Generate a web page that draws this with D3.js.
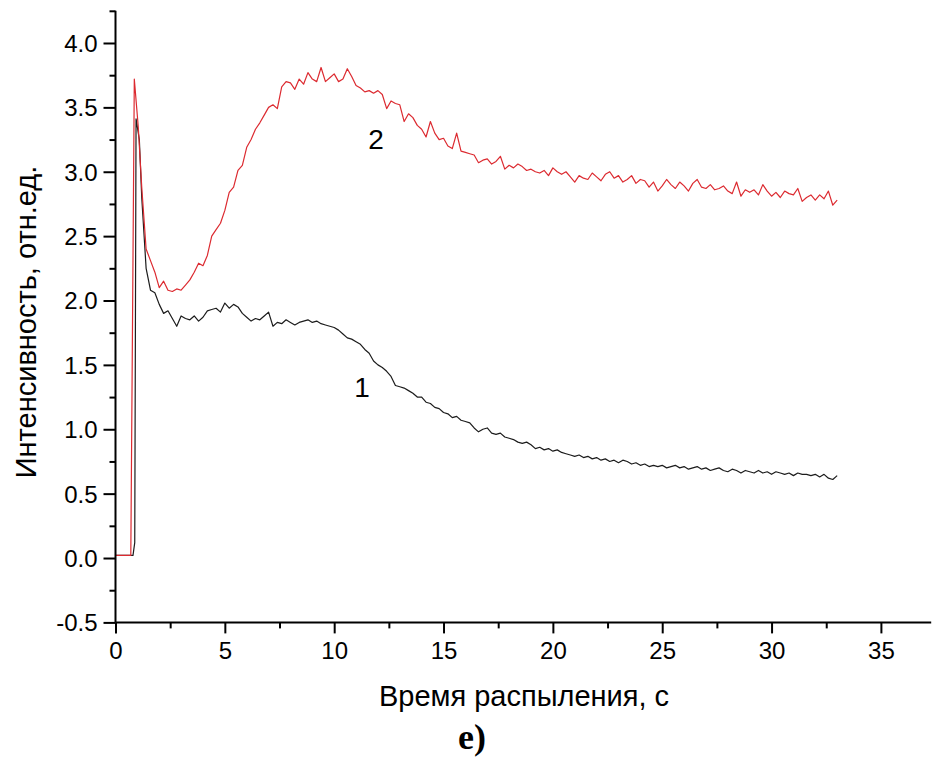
<!DOCTYPE html>
<html>
<head>
<meta charset="utf-8">
<script src="https://cdn.jsdelivr.net/npm/d3@7/dist/d3.min.js"></script>
<style>
  body { margin: 0; background: #fff; }
  svg text { font-family: "Liberation Sans", Arial, sans-serif; fill: #000; }
</style>
</head>
<body>
<div id="chart"></div>
<script>
// head of each curve (before the regular 0.2 s grid), [time, value]
var head1 = [[0, 0.02], [0.8, 0.02], [0.88, 0.12], [0.94, 3.41], [1.09, 3.25]]
var head2 = [[0, 0.02], [0.7, 0.02], [0.86, 3.72], [1.04, 3.35]]

// values on the grid 1.2 .. 33.0 s, step 0.2 s (10 values per 2 s)
var curve1 = [
  2.80, 2.25, 2.08, 2.06, 1.97, 1.90, 1.92, 1.86, 1.80, 1.88,
  1.86, 1.85, 1.88, 1.84, 1.87, 1.92, 1.93, 1.94, 1.91, 1.98,
  1.94, 1.97, 1.95, 1.90, 1.87, 1.84, 1.86, 1.85, 1.88, 1.91,
  1.80, 1.83, 1.82, 1.85, 1.83, 1.81, 1.83, 1.84, 1.85, 1.83,
  1.84, 1.82, 1.81, 1.80, 1.79, 1.77, 1.74, 1.71, 1.70, 1.68,
  1.66, 1.62, 1.59, 1.53, 1.50, 1.48, 1.45, 1.41, 1.34, 1.33,
  1.32, 1.30, 1.28, 1.25, 1.25, 1.21, 1.20, 1.17, 1.16, 1.13,
  1.12, 1.09, 1.10, 1.07, 1.06, 1.05, 1.01, 0.98, 1.00, 1.01,
  0.97, 0.96, 0.97, 0.94, 0.93, 0.92, 0.90, 0.89, 0.90, 0.88,
  0.85, 0.86, 0.84, 0.85, 0.83, 0.84, 0.82, 0.81, 0.80, 0.79,
  0.80, 0.78, 0.79, 0.77, 0.78, 0.76, 0.77, 0.75, 0.76, 0.74,
  0.76, 0.75, 0.73, 0.74, 0.72, 0.73, 0.71, 0.72, 0.71, 0.72,
  0.70, 0.71, 0.72, 0.70, 0.71, 0.69, 0.70, 0.71, 0.69, 0.70,
  0.68, 0.69, 0.70, 0.68, 0.67, 0.69, 0.68, 0.66, 0.68, 0.67,
  0.66, 0.68, 0.66, 0.67, 0.65, 0.67, 0.66, 0.65, 0.66, 0.64,
  0.66, 0.65, 0.65, 0.64, 0.65, 0.63, 0.65, 0.62, 0.61, 0.64
]
var curve2 = [
  2.88, 2.40, 2.31, 2.22, 2.10, 2.15, 2.08, 2.07, 2.09, 2.08,
  2.12, 2.16, 2.22, 2.29, 2.27, 2.35, 2.50, 2.55, 2.60, 2.70,
  2.84, 2.88, 3.01, 3.05, 3.19, 3.25, 3.33, 3.38, 3.44, 3.50,
  3.52, 3.49, 3.66, 3.70, 3.69, 3.64, 3.72, 3.68, 3.77, 3.72,
  3.70, 3.81, 3.70, 3.73, 3.76, 3.70, 3.72, 3.80, 3.74, 3.67,
  3.65, 3.62, 3.63, 3.61, 3.63, 3.60, 3.49, 3.55, 3.53, 3.52,
  3.39, 3.45, 3.42, 3.36, 3.33, 3.27, 3.39, 3.30, 3.25, 3.26,
  3.20, 3.18, 3.30, 3.16, 3.15, 3.14, 3.13, 3.07, 3.09, 3.10,
  3.06, 3.08, 3.12, 3.02, 3.05, 3.03, 3.06, 3.04, 3.01, 3.02,
  3.00, 2.99, 3.01, 2.97, 3.03, 3.00, 2.98, 3.00, 2.96, 2.92,
  2.97, 2.95, 2.94, 2.99, 2.96, 2.93, 2.98, 3.00, 2.95, 2.97,
  2.92, 2.94, 2.97, 2.91, 2.94, 2.93, 2.88, 2.92, 2.85, 2.89,
  2.94, 2.90, 2.87, 2.92, 2.89, 2.85, 2.91, 2.94, 2.88, 2.87,
  2.90, 2.86, 2.87, 2.89, 2.85, 2.83, 2.92, 2.81, 2.86, 2.84,
  2.86, 2.82, 2.90, 2.85, 2.81, 2.84, 2.80, 2.85, 2.83, 2.82,
  2.87, 2.77, 2.80, 2.82, 2.78, 2.82, 2.79, 2.85, 2.74, 2.78
]

var xTicks = [0, 5, 10, 15, 20, 25, 30, 35]
var yTicks = [-0.5, 0.0, 0.5, 1.0, 1.5, 2.0, 2.5, 3.0, 3.5, 4.0]
var curveLabels = [{text: "1", t: 11.27, v: 1.25}, {text: "2", t: 11.91, v: 3.18}]

var width = 932, height = 772

var svg = d3.select("#chart").append("svg")
    .attr("width", width)
    .attr("height", height)

var x = d3.scaleLinear().domain([0, 37.3]).range([115.5, 931.2])
var y = d3.scaleLinear().domain([-0.5, 4.25]).range([622.4, 10.8])

// grid times
var grid = curve1.map(function(d, i) { return Math.round((1.2 + i * 0.2) * 10) / 10 })
var pts1 = head1.concat(grid.map(function(t, i) { return [t, curve1[i]] }))
var pts2 = head2.concat(grid.map(function(t, i) { return [t, curve2[i]] }))

var line = d3.line()
    .x(function(d) { return x(d[0]) })
    .y(function(d) { return y(d[1]) })

svg.append("path")
    .attr("d", line(pts1))
    .attr("fill", "none")
    .attr("stroke", "#1c1c1c")
    .attr("stroke-width", 1.2)
    .attr("stroke-linejoin", "round")

svg.append("path")
    .attr("d", line(pts2))
    .attr("fill", "none")
    .attr("stroke", "#dc2a30")
    .attr("stroke-width", 1.2)
    .attr("stroke-linejoin", "round")

function isMajor(list, d) {
  return list.some(function(v) { return Math.abs(v - d) < 1e-6 })
}

// x axis
var xAxis = svg.append("g").attr("transform", "translate(0," + y(-0.5) + ")")
xAxis.call(d3.axisBottom(x).tickValues(d3.range(0, 37.5, 2.5)).tickSize(6).tickFormat(""))
xAxis.selectAll(".tick").filter(function(d) { return isMajor(xTicks, d) })
    .each(function(d) {
      d3.select(this).select("line").attr("y2", 11)
      d3.select(this).append("text")
        .attr("y", 37)
        .attr("text-anchor", "middle")
        .style("font-size", "24px")
        .text(d)
    })

// y axis
var yAxis = svg.append("g").attr("transform", "translate(" + x(0) + ",0)")
yAxis.call(d3.axisLeft(y).tickValues(d3.range(-0.5, 4.3, 0.25)).tickSize(6).tickFormat(""))
yAxis.selectAll(".tick").filter(function(d) { return isMajor(yTicks, d) })
    .each(function(d) {
      d3.select(this).select("line").attr("x2", -12)
      d3.select(this).append("text")
        .attr("x", -18)
        .attr("dy", "0.35em")
        .attr("text-anchor", "end")
        .style("font-size", "24px")
        .text(d3.format(".1f")(d).replace("\u2212", "-"))
    })

svg.selectAll(".domain").attr("stroke", "#000").attr("stroke-width", 2)
svg.selectAll(".tick line").attr("stroke", "#000").attr("stroke-width", 2)
// plain path without end caps
xAxis.select(".domain").attr("d", "M" + x(0) + ",0H" + x(37.3))
yAxis.select(".domain").attr("d", "M0," + y(-0.5) + "V" + y(4.25))

// curve numbers
svg.selectAll(".clabel")
    .data(curveLabels)
    .enter().append("text")
    .attr("class", "clabel")
    .attr("x", function(d) { return x(d.t) })
    .attr("y", function(d) { return y(d.v) })
    .attr("text-anchor", "middle")
    .style("font-size", "28px")
    .text(function(d) { return d.text })

// axis titles
svg.append("text")
    .attr("x", 524)
    .attr("y", 706)
    .attr("text-anchor", "middle")
    .style("font-size", "29px")
    .text("Время распыления, с")

svg.append("text")
    .attr("transform", "translate(36,322) rotate(-90)")
    .attr("text-anchor", "middle")
    .style("font-size", "29px")
    .text("Интенсивность, отн.ед.")

svg.append("text")
    .attr("x", 472)
    .attr("y", 749)
    .attr("text-anchor", "middle")
    .style("font-family", "'Liberation Serif', 'Times New Roman', serif")
    .style("font-weight", "bold")
    .style("font-size", "36px")
    .text("е)")
</script>
</body>
</html>
